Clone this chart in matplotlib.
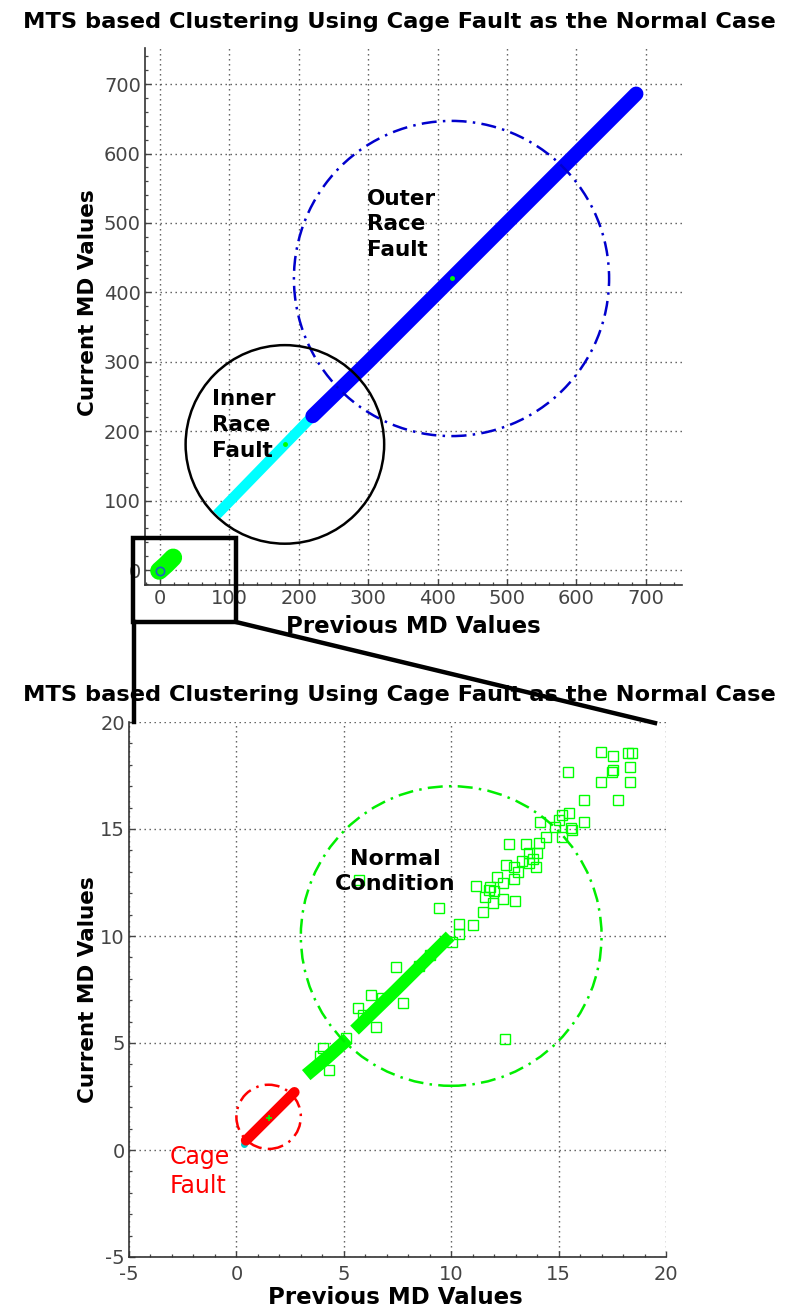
import matplotlib
matplotlib.use('Agg')
import matplotlib.pyplot as plt
from matplotlib.patches import Circle, Rectangle
from matplotlib.lines import Line2D
from matplotlib.ticker import MultipleLocator

# ---------------- data ----------------
title = "MTS based Clustering Using Cage Fault as the Normal Case"

# top plot: dense bands drawn as thick polylines
outer_band_x = [220, 300, 400, 500, 600, 686]
outer_band_y = [222, 300, 400, 500, 600, 686]
inner_band_x = [82, 150, 218]
inner_band_y = [80, 150, 220]
normal_blob_x = [-1, 9, 19]
normal_blob_y = [-1, 8, 18]
cage_marker_top = (0, -2)
outer_center = (420, 420)
outer_radius = 227
inner_center = (180, 181)
inner_radius = 143

# bottom (zoomed) plot
cage_band_x = [0.45, 1.5, 2.7]
cage_band_y = [0.45, 1.5, 2.7]
normal_band1_x = [3.25, 4.2, 5.2]
normal_band1_y = [3.5, 4.3, 5.2]
normal_band2_x = [5.5, 7.4, 9.95]
normal_band2_y = [5.6, 7.45, 10.0]
normal_out_x = [4.33, 4.01, 5.10, 3.9, 5.64, 6.26, 6.50, 7.74, 7.45, 5.72, 9.44,
                10.06, 10.37, 10.37, 11.00, 11.15, 11.77, 11.58, 12.39, 12.98,
                11.95, 11.49, 12.15, 12.42, 12.93, 12.54, 12.93, 12.70, 13.47,
                13.63, 13.30, 13.80, 14.00, 13.94, 14.09, 14.40, 15.18, 14.84,
                15.02, 15.18, 15.49, 15.57, 14.12, 16.16, 15.46, 16.17, 17.78,
                16.98, 18.31, 17.47, 17.55, 16.98, 17.55, 18.23, 18.40, 18.31,
                12.51, 15.64, 13.10, 13.60, 12.00, 11.80, 8.50, 9.00, 5.90, 6.80]
normal_out_y = [3.74, 4.75, 5.22, 4.40, 6.62, 7.24, 5.76, 6.88, 8.54, 12.62, 11.33,
                9.73, 10.10, 10.56, 10.51, 12.35, 12.15, 11.84, 11.71, 11.65,
                11.56, 11.14, 12.77, 12.46, 12.65, 13.32, 13.24, 14.30, 14.28,
                13.86, 13.50, 13.60, 13.90, 13.24, 14.33, 14.64, 14.64, 15.11,
                15.42, 15.65, 15.73, 15.03, 15.34, 15.34, 17.65, 16.36, 16.36,
                17.20, 17.20, 17.68, 17.75, 18.58, 18.41, 18.54, 18.54, 17.91,
                5.17, 14.95, 13.00, 13.40, 12.10, 12.30, 8.60, 9.10, 6.30, 7.10]
normal_center = (10, 10)
normal_radius = 7
cage_center = (1.5, 1.55)
cage_radius = 1.5

# ---------------- style ----------------
plt.rcParams['font.family'] = ['DejaVu Sans']
plt.rcParams['axes.unicode_minus'] = False

W, H = 798, 1315
fig = plt.figure(figsize=(W / 100, H / 100), dpi=100)
fig.patch.set_facecolor('white')

ax1 = fig.add_axes([145 / W, 1 - 585 / H, 537 / W, 537 / H])
ax2 = fig.add_axes([129 / W, 1 - 1257 / H, 537 / W, 535 / H])

DASHDOT = (0, (6, 2.5, 1, 2.5))
GRID = dict(color='#555555', linestyle=(0, (1, 2.6)), linewidth=1.0)
TICKC = '#444444'


def style(ax, lim, major, minor):
    ax.set_xlim(*lim)
    ax.set_ylim(*lim)
    for a in (ax.xaxis, ax.yaxis):
        a.set_major_locator(MultipleLocator(major))
        a.set_minor_locator(MultipleLocator(minor))
    ax.spines['top'].set_visible(False)
    ax.spines['right'].set_visible(False)
    for s in ('left', 'bottom'):
        ax.spines[s].set_color('#333333')
        ax.spines[s].set_linewidth(1.2)
    ax.grid(True, which='major', **GRID)
    ax.set_axisbelow(True)
    ax.tick_params(which='major', direction='in', length=4.5, width=1,
                   colors=TICKC, labelsize=14, pad=3)
    ax.tick_params(which='minor', direction='in', length=2.5, width=0.9,
                   colors=TICKC)


style(ax1, (-21.5, 752), 100, 20)
style(ax2, (-5, 20), 5, 1)
ax2.tick_params(axis='x', which='major', pad=5.5)

# ---------------- top plot ----------------
ax1.plot(inner_band_x, inner_band_y, color='#00FFFF', lw=7.5, solid_capstyle='butt', zorder=3)
ax1.plot(outer_band_x, outer_band_y, color='#0000FF', lw=10.5, solid_capstyle='round', zorder=4)
ax1.plot(normal_blob_x, normal_blob_y, color='#00FF00', lw=13, solid_capstyle='round', zorder=4)
ax1.plot([cage_marker_top[0]], [cage_marker_top[1]], marker='o', ms=6, mfc='none',
         mec='#2060C0', mew=1.2, ls='none', zorder=5)
ax1.add_patch(Circle(outer_center, outer_radius, fill=False, ec='#0000CC', lw=1.8,
                     ls=DASHDOT, zorder=5))
ax1.add_patch(Circle(inner_center, inner_radius, fill=False, ec='black', lw=1.8, zorder=5))
ax1.plot([outer_center[0], inner_center[0]], [outer_center[1], inner_center[1]], ls='none',
         marker='.', ms=5, color='#00FF00', zorder=6)

ax1.text(298, 498, "Outer\nRace\nFault", fontsize=15.5, fontweight='bold', ha='left',
         va='center', linespacing=1.35, zorder=7)
ax1.text(75, 209, "Inner\nRace\nFault", fontsize=15.5, fontweight='bold', ha='left',
         va='center', linespacing=1.4, zorder=7)

ax1.set_xlabel("Previous MD Values", fontsize=16.5, fontweight='bold')
ax1.set_ylabel("Current MD Values", fontsize=15.5, fontweight='bold')
ax1.xaxis.set_label_coords(0.5, (585 - 627) / 537)
ax1.xaxis.label.set_va('center')
ax1.yaxis.set_label_coords((88 - 145) / 537, (585 - 303) / 537)
ax1.yaxis.label.set_va('center')

# ---------------- bottom plot ----------------
ax2.plot([0.35], [0.3], marker='o', ms=4, color='#00CCCC', ls='none', zorder=3)
ax2.plot(cage_band_x, cage_band_y, color='#FF0000', lw=7.5, solid_capstyle='round', zorder=4)
ax2.plot(normal_band1_x, normal_band1_y, color='#00FF00', lw=9.5, solid_capstyle='butt', zorder=4)
ax2.plot(normal_band2_x, normal_band2_y, color='#00FF00', lw=9, solid_capstyle='butt', zorder=4)
ax2.plot(normal_out_x, normal_out_y, ls='none', marker='s', ms=7.5, mfc='none',
         mec='#00FF00', mew=1.0, zorder=4)
ax2.add_patch(Circle(normal_center, normal_radius, fill=False, ec='#00EE00', lw=1.8,
                     ls=DASHDOT, zorder=5))
ax2.add_patch(Circle(cage_center, cage_radius, fill=False, ec='#FF0000', lw=1.8,
                     ls=DASHDOT, zorder=5))
ax2.plot([1.5], [1.5], marker='+', ms=4, color='#00FF00', mew=1.2, ls='none', zorder=6)

ax2.text(7.4, 13.0, "Normal\nCondition", fontsize=16, fontweight='bold', ha='center',
         va='center', multialignment='center', linespacing=1.3, zorder=7)
ax2.text(-3.1, -1.0, "Cage\nFault", fontsize=17, color='#FF0000', ha='left',
         va='center', linespacing=1.25, zorder=7)

ax2.set_xlabel("Previous MD Values", fontsize=16.5, fontweight='bold')
ax2.set_ylabel("Current MD Values", fontsize=15.5, fontweight='bold')
ax2.xaxis.set_label_coords((395 - 129) / 537, (1257 - 1298) / 535)
ax2.xaxis.label.set_va('center')
ax2.yaxis.set_label_coords((88 - 129) / 537, (1257 - 990) / 535)
ax2.yaxis.label.set_va('center')

# ---------------- titles ----------------
fig.text(0.5, 1 - 22 / H, title, fontsize=16.2, fontweight='bold', ha='center', va='center')
fig.text(0.5, 1 - 695 / H, title, fontsize=16.2, fontweight='bold', ha='center', va='center')

# ---------------- zoom box and connector lines (figure pixels) ----------------
def fx(px):
    return px / W


def fy(py):
    return 1 - py / H


fig.add_artist(Rectangle((fx(133), fy(622)), fx(236) - fx(133), fy(538) - fy(622),
                         fill=False, ec='black', lw=3.2, transform=fig.transFigure, zorder=10))
fig.add_artist(Line2D([fx(134), fx(134)], [fy(622), fy(722)], color='black', lw=3.2,
                      transform=fig.transFigure, zorder=10))
fig.add_artist(Line2D([fx(236), fx(655)], [fy(622), fy(723)], color='black', lw=3.2,
                      transform=fig.transFigure, zorder=10))

fig.savefig('out.png', dpi=100)
